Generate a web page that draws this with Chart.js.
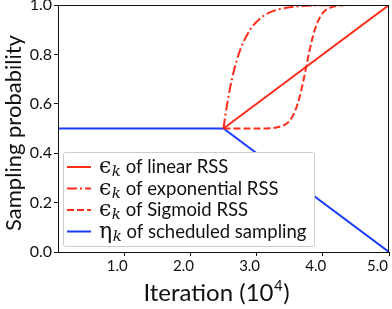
<!DOCTYPE html>
<html>
<head>
<meta charset="utf-8">
<script src="https://cdn.jsdelivr.net/npm/chart.js@4/dist/chart.umd.min.js"></script>
<style>
  html, body { margin: 0; padding: 0; background: #fff; }
  #wrap { width: 392px; height: 309px; }
</style>
</head>
<body>
<div id="wrap"><canvas id="c" width="392" height="309"></canvas></div>
<script>
// ---- data (x in units of 10^4 iterations) ----
const linearX = [2.5, 5.0];
const linearY = [0.5, 1.0];

const expX = [2.5, 2.525, 2.55, 2.6, 2.65, 2.7, 2.75, 2.8, 2.9, 3.0, 3.1, 3.2, 3.3, 3.5, 3.75, 4.0, 4.5, 5.0];
const expY = [0.5, 0.548, 0.59, 0.665, 0.726, 0.775, 0.816, 0.849, 0.899, 0.932, 0.955, 0.97, 0.98, 0.991, 0.997, 0.999, 1.0, 1.0];

const sigX = [2.5, 3.0, 3.2, 3.3, 3.4, 3.45, 3.5, 3.55, 3.6, 3.65, 3.7, 3.75, 3.8, 3.85, 3.9, 3.95, 4.0, 4.05, 4.1, 4.2, 4.3, 4.5, 5.0];
const sigY = [0.5, 0.5, 0.501, 0.504, 0.512, 0.519, 0.532, 0.553, 0.584, 0.628, 0.685, 0.75, 0.816, 0.872, 0.916, 0.947, 0.968, 0.981, 0.988, 0.996, 0.999, 1.0, 1.0];

const schedX = [0, 2.5, 5.0];
const schedY = [0.5, 0.5, 0.0];

const xTicks = [1, 2, 3, 4, 5];
const xTickLabels = ['1.0', '2.0', '3.0', '4.0', '5.0'];
const yTicks = [0, 0.2, 0.4, 0.6, 0.8, 1.0];

const legendNames = [
  { sym: 'ϵ', sub: 'k', rest: ' of linear RSS' },
  { sym: 'ϵ', sub: 'k', rest: ' of exponential RSS' },
  { sym: 'ϵ', sub: 'k', rest: ' of Sigmoid RSS' },
  { sym: 'η', sub: 'k', rest: ' of scheduled sampling' }
];

const RED = '#ff2b1b';
const BLUE = '#1a3cff';
const FONT = 'Lato, "Open Sans", sans-serif';

function pts(xs, ys) { return xs.map((x, i) => ({ x: x, y: ys[i] })); }

const base = { pointRadius: 0, fill: false, borderWidth: 2 };
const datasets = [
  Object.assign({ data: pts(linearX, linearY), borderColor: RED, borderDash: [], tension: 0 }, base),
  Object.assign({ data: pts(expX, expY), borderColor: RED, borderDash: [10, 3, 2, 3], cubicInterpolationMode: 'monotone' }, base),
  Object.assign({ data: pts(sigX, sigY), borderColor: RED, borderDash: [7, 3], cubicInterpolationMode: 'monotone' }, base),
  Object.assign({ data: pts(schedX, schedY), borderColor: BLUE, borderDash: [], tension: 0 }, base)
];

const decor = {
  id: 'decor',
  afterDraw(chart) {
    const ctx = chart.ctx;
    const a = chart.chartArea;
    ctx.save();
    // frame
    ctx.strokeStyle = '#111';
    ctx.lineWidth = 1;
    ctx.strokeRect(a.left + 0.5, a.top + 0.5, a.right - a.left - 1, a.bottom - a.top);

    // x tick labels (positioned from the library's x scale)
    const xs = chart.scales.x;
    ctx.fillStyle = '#111';
    ctx.font = '15px ' + FONT;
    ctx.textAlign = 'center';
    ctx.textBaseline = 'top';
    xTicks.forEach((v, i) => {
      const px = xs.getPixelForValue(v);
      const tw = ctx.measureText(xTickLabels[i]).width;
      const cx = Math.min(px - 7, chart.width - 4 - tw / 2);
      ctx.fillText(xTickLabels[i], cx, a.bottom + 7);
    });

    // legend
    const bx = 63, by = 152, bw = 251, bh = 94;
    ctx.fillStyle = '#fff';
    ctx.strokeStyle = '#cccccc';
    ctx.lineWidth = 1;
    ctx.beginPath();
    if (ctx.roundRect) ctx.roundRect(bx + 0.5, by + 0.5, bw, bh, 2); else ctx.rect(bx + 0.5, by + 0.5, bw, bh);
    ctx.fill(); ctx.stroke();
    const rows = [167, 188.5, 210, 231.5];
    datasets.forEach((d, i) => {
      const y = rows[i];
      ctx.strokeStyle = d.borderColor;
      ctx.lineWidth = 2;
      ctx.setLineDash(d.borderDash);
      ctx.beginPath(); ctx.moveTo(67, y); ctx.lineTo(91, y); ctx.stroke();
      ctx.setLineDash([]);
      const n = legendNames[i];
      ctx.fillStyle = '#111';
      ctx.textBaseline = 'alphabetic';
      ctx.textAlign = 'left';
      let x = 99;
      ctx.font = '22px "DejaVu Serif", serif';
      ctx.fillText(n.sym, x, y + 6);
      x += ctx.measureText(n.sym).width + 0.5;
      ctx.font = 'italic 15px "DejaVu Serif", serif';
      ctx.fillText(n.sub, x, y + 9);
      x += ctx.measureText(n.sub).width;
      ctx.font = '18.5px ' + FONT;
      ctx.fillText(n.rest, x, y + 6);
    });

    // axis titles
    ctx.fillStyle = '#111';
    const big = '24px ' + FONT, small = '15px ' + FONT;
    ctx.font = big;
    const t1 = 'Iteration (10', t2 = '4', t3 = ')';
    const w1 = ctx.measureText(t1).width;
    ctx.font = small;
    const w2 = ctx.measureText(t2).width;
    ctx.font = big;
    const w3 = ctx.measureText(t3).width;
    let sx = 216 - (w1 + w2 + w3) / 2;
    ctx.textAlign = 'left';
    ctx.textBaseline = 'alphabetic';
    ctx.fillText(t1, sx, 301);
    ctx.font = small;
    ctx.fillText(t2, sx + w1 + 0.5, 291);
    ctx.font = big;
    ctx.fillText(t3, sx + w1 + w2 + 1, 301);

    ctx.translate(21, 133);
    ctx.rotate(-Math.PI / 2);
    ctx.textAlign = 'center';
    ctx.font = '22px ' + FONT;
    ctx.fillText('Sampling probability', 0, 0);
    ctx.restore();
  }
};

new Chart(document.getElementById('c'), {
  type: 'line',
  data: { datasets: datasets },
  options: {
    responsive: false,
    animation: false,
    devicePixelRatio: 1,
    layout: { padding: { top: 5, right: 3, left: 0, bottom: 0 } },
    plugins: { legend: { display: false }, tooltip: { enabled: false } },
    scales: {
      x: {
        type: 'linear', min: 0, max: 5,
        afterBuildTicks(s) { s.ticks = xTicks.map(v => ({ value: v })); },
        afterFit(s) { s.height = 57; s.paddingLeft = 0; s.paddingRight = 0; },
        border: { display: true, color: '#111', width: 1 },
        grid: { drawOnChartArea: false, drawTicks: true, tickLength: 4, color: '#111' },
        ticks: { display: false }
      },
      y: {
        type: 'linear', min: 0, max: 1,
        afterBuildTicks(s) { s.ticks = yTicks.map(v => ({ value: v })); },
        afterFit(s) { s.width = 58; s.paddingTop = 0; s.paddingBottom = 0; },
        border: { display: true, color: '#111', width: 1 },
        grid: { drawOnChartArea: false, drawTicks: true, tickLength: 4, color: '#111' },
        ticks: { color: '#111', font: { family: FONT, size: 16 }, padding: 2,
                 callback: v => v.toFixed(1) }
      }
    }
  },
  plugins: [decor]
});
</script>
</body>
</html>
